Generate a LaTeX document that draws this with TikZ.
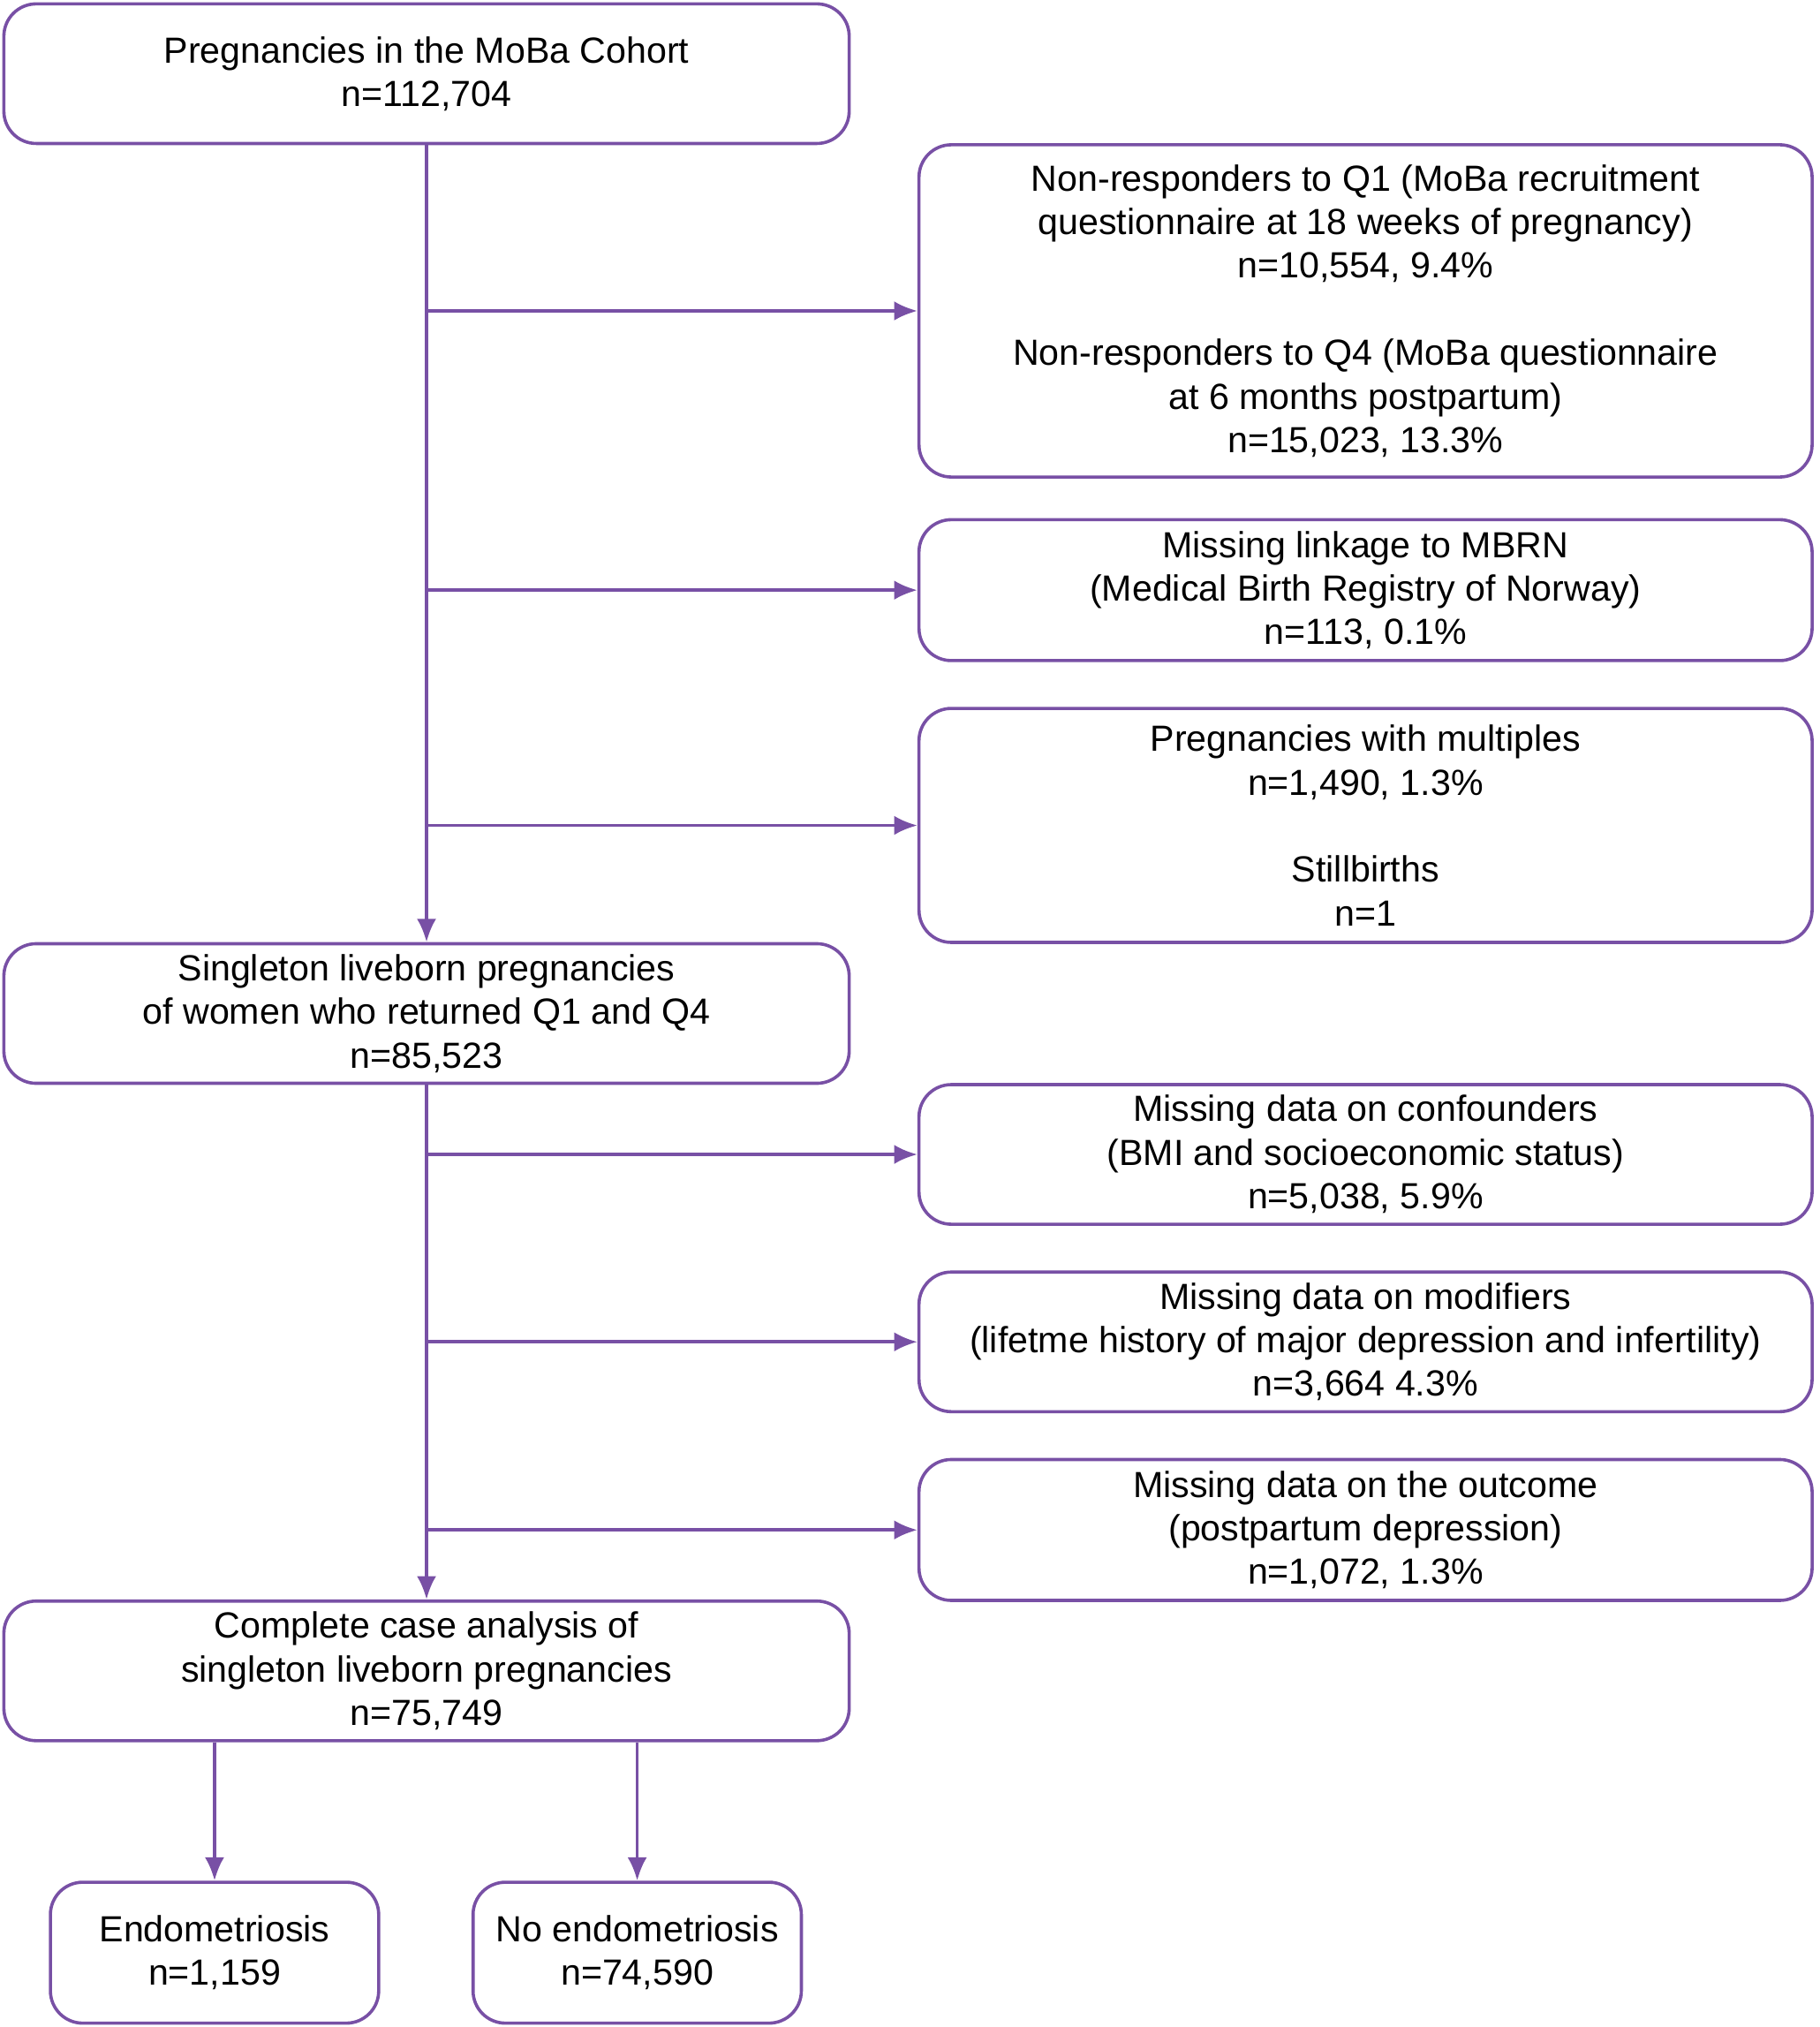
\documentclass[tikz,border=0pt]{standalone}
\usepackage{fontspec}
\setmainfont{Liberation Sans}
\usetikzlibrary{arrows.meta}
\tikzset{>={Latex[length=1.8mm,width=1.5mm]}}
\definecolor{flowpurple}{RGB}{120,80,165}
\tikzset{
    box/.style={draw=flowpurple, line width=0.7pt, rounded corners=2.5mm,
        align=center, font=\fontsize{8.0}{9.6}\selectfont, inner sep=0pt},
    lbox/.style={box, minimum width=6.54cm, minimum height=1.08cm},
    rbox/.style={box, minimum width=6.91cm},
    sbox/.style={box, minimum width=2.54cm, minimum height=1.09cm},
    flow/.style={draw=flowpurple, line width=0.7pt},
}
\begin{document}
\begin{tikzpicture}
\useasboundingbox (0,0) rectangle (14.08,-15.68);
    %main column
    \node[lbox] (cohort) at (3.30,-0.57) {Pregnancies in the MoBa Cohort\\n=112,704};
    \node[lbox] (single) at (3.30,-7.84) {Singleton liveborn pregnancies\\of women who returned Q1 and Q4\\n=85,523};
    \node[lbox] (complete) at (3.30,-12.925) {Complete case analysis of\\singleton liveborn pregnancies\\n=75,749};
    \node[sbox] (endo) at (1.66,-15.105) {Endometriosis\\n=1,159};
    \node[sbox] (noendo) at (4.93,-15.105) {No endometriosis\\n=74,590};
    %exclusions
    \node[rbox, minimum height=2.57cm] (nonresp) at (10.565,-2.405) {Non-responders to Q1 (MoBa recruitment\\questionnaire at 18 weeks of pregnancy)\\n=10,554, 9.4\%\\[9.6pt]Non-responders to Q4 (MoBa questionnaire\\at 6 months postpartum)\\n=15,023, 13.3\%};
    \node[rbox, minimum height=1.09cm] (mbrn) at (10.565,-4.565) {Missing linkage to MBRN\\(Medical Birth Registry of Norway)\\n=113, 0.1\%};
    \node[rbox, minimum height=1.81cm] (multi) at (10.565,-6.385) {Pregnancies with multiples\\n=1,490, 1.3\%\\[9.6pt]Stillbirths\\n=1};
    \node[rbox, minimum height=1.08cm] (confound) at (10.565,-8.93) {Missing data on confounders\\(BMI and socioeconomic status)\\n=5,038, 5.9\%};
    \node[rbox, minimum height=1.08cm] (modif) at (10.565,-10.38) {Missing data on modifiers\\(lifetme history of major depression and infertility)\\n=3,664 4.3\%};
    \node[rbox, minimum height=1.09cm] (outcome) at (10.565,-11.835) {Missing data on the outcome\\(postpartum depression)\\n=1,072, 1.3\%};
    %connectors
    \draw[flow,->] (cohort) -- (single);
    \draw[flow,->] (single) -- (complete);
    \foreach \ex in {nonresp,mbrn,multi}
    {\draw[flow,->] (cohort.south |- \ex.west) -- (\ex.west);}
    \foreach \ex in {confound,modif,outcome}
    {\draw[flow,->] (single.south |- \ex.west) -- (\ex.west);}
    \draw[flow,->] (complete.south -| endo.north) -- (endo);
    \draw[flow,->] (complete.south -| noendo.north) -- (noendo);
\end{tikzpicture}
\end{document}
